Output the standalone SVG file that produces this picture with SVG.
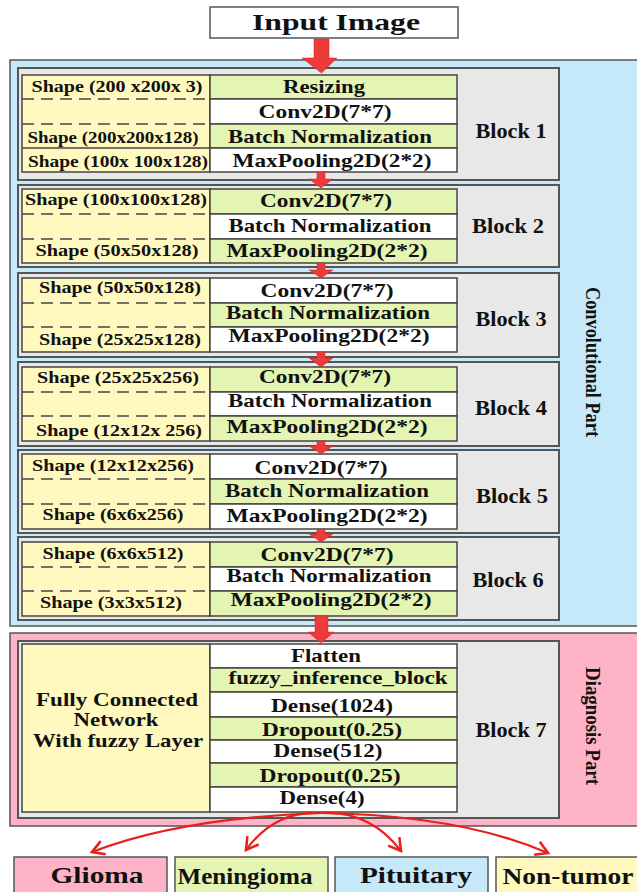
<svg xmlns="http://www.w3.org/2000/svg" width="637" height="892" viewBox="0 0 637 892">
<style>
.panelC{fill:#c6e9fa;stroke:#555;stroke-width:1.5}
.panelD{fill:#ffb3c7;stroke:#555;stroke-width:1.5}
.blk{fill:#e8e8e8;stroke:#555;stroke-width:2}
.y{fill:#fff9c0;stroke:#444;stroke-width:1.5}
.g{fill:#e3f4b3;stroke:#444;stroke-width:1.5}
.w{fill:#fff;stroke:#444;stroke-width:1.5}
.d{stroke:#444;stroke-width:1.5;stroke-dasharray:12 7;fill:none}
.sl{stroke:#444;stroke-width:1.5}
text{font-family:"Liberation Serif","Times New Roman",serif;font-weight:bold;fill:#111;text-anchor:middle}
.t{font-size:19px}
.s{font-size:16px}
.b{font-size:20px}
.v{font-size:20px}
.o{font-size:24px}
.arr{fill:#ee3a3a;stroke:#c22;stroke-width:0.5}
.cur{fill:none;stroke:#e8201c;stroke-width:2.2}
</style>
<defs>
<marker id="ah" markerUnits="userSpaceOnUse" markerWidth="18" markerHeight="18" refX="13" refY="8" orient="auto">
<path d="M1,1 L13,8 L1,15" fill="none" stroke="#e8201c" stroke-width="2.6"/>
</marker>
</defs>

<g id="input-image">
<rect x="210" y="7" width="248" height="31" fill="#fff" stroke="#555" stroke-width="1.5"/>
<text x="336" y="30" style="font-size:24px" textLength="168" lengthAdjust="spacingAndGlyphs">Input  Image</text>
</g>

<g id="convolutional-part">
<rect class="panelC" x="10" y="60" width="632" height="566"/>
<text class="v" transform="translate(586,362) rotate(90)" textLength="150" lengthAdjust="spacingAndGlyphs">Convolutional Part</text>
</g>

<g id="diagnosis-part">
<rect class="panelD" x="10" y="633" width="632" height="193"/>
<text class="v" transform="translate(586,726) rotate(90)" textLength="118" lengthAdjust="spacingAndGlyphs">Diagnosis  Part</text>
</g>

<g id="block1">
<rect class="blk" x="18" y="68" width="541" height="112"/>
<rect class="y" x="22" y="75" width="188" height="97"/>
<rect class="g" x="210" y="75" width="247" height="24"/>
<rect class="w" x="210" y="99" width="247" height="25"/>
<rect class="g" x="210" y="124" width="247" height="24"/>
<rect class="w" x="210" y="148" width="247" height="24"/>
<line class="d" x1="22" y1="99" x2="210" y2="99"/>
<line class="d" x1="22" y1="124" x2="210" y2="124"/>
<line class="sl" x1="22" y1="148" x2="210" y2="148"/>
<text class="s" x="117" y="92" textLength="171" lengthAdjust="spacingAndGlyphs">Shape (200 x200x 3)</text>
<text class="s" x="113" y="143" textLength="171" lengthAdjust="spacingAndGlyphs">Shape (200x200x128)</text>
<text class="s" x="118" y="167" textLength="180" lengthAdjust="spacingAndGlyphs">Shape (100x 100x128)</text>
<text class="t" x="324" y="93" textLength="82" lengthAdjust="spacingAndGlyphs">Resizing</text>
<text class="t" x="325" y="118" textLength="133" lengthAdjust="spacingAndGlyphs">Conv2D(7*7)</text>
<text class="t" x="330" y="143" textLength="204" lengthAdjust="spacingAndGlyphs">Batch Normalization</text>
<text class="t" x="332" y="167" textLength="199" lengthAdjust="spacingAndGlyphs">MaxPooling2D(2*2)</text>
<text class="b" x="511" y="138" textLength="71" lengthAdjust="spacingAndGlyphs">Block 1</text>
</g>

<g id="block2">
<rect class="blk" x="18" y="185" width="541" height="82"/>
<rect class="y" x="22" y="189" width="188" height="74"/>
<rect class="g" x="210" y="189" width="247" height="25"/>
<rect class="w" x="210" y="214" width="247" height="25"/>
<rect class="g" x="210" y="239" width="247" height="24"/>
<line class="d" x1="22" y1="214" x2="210" y2="214"/>
<line class="d" x1="22" y1="239" x2="210" y2="239"/>
<text class="s" x="116" y="205" textLength="182" lengthAdjust="spacingAndGlyphs">Shape (100x100x128)</text>
<text class="s" x="117" y="256" textLength="163" lengthAdjust="spacingAndGlyphs">Shape (50x50x128)</text>
<text class="t" x="326" y="207" textLength="132" lengthAdjust="spacingAndGlyphs">Conv2D(7*7)</text>
<text class="t" x="330" y="232" textLength="203" lengthAdjust="spacingAndGlyphs">Batch Normalization</text>
<text class="t" x="327" y="257" textLength="201" lengthAdjust="spacingAndGlyphs">MaxPooling2D(2*2)</text>
<text class="b" x="508" y="233" textLength="72" lengthAdjust="spacingAndGlyphs">Block 2</text>
</g>

<g id="block3">
<rect class="blk" x="18" y="273" width="541" height="84"/>
<rect class="y" x="22" y="278" width="188" height="74"/>
<rect class="w" x="210" y="278" width="247" height="25"/>
<rect class="g" x="210" y="303" width="247" height="24"/>
<rect class="w" x="210" y="327" width="247" height="25"/>
<line class="d" x1="22" y1="303" x2="210" y2="303"/>
<line class="d" x1="22" y1="327" x2="210" y2="327"/>
<text class="s" x="120" y="293" textLength="162" lengthAdjust="spacingAndGlyphs">Shape (50x50x128)</text>
<text class="s" x="120" y="345" textLength="162" lengthAdjust="spacingAndGlyphs">Shape (25x25x128)</text>
<text class="t" x="327" y="297" textLength="133" lengthAdjust="spacingAndGlyphs">Conv2D(7*7)</text>
<text class="t" x="328" y="319" textLength="204" lengthAdjust="spacingAndGlyphs">Batch Normalization</text>
<text class="t" x="329" y="342" textLength="201" lengthAdjust="spacingAndGlyphs">MaxPooling2D(2*2)</text>
<text class="b" x="511" y="326" textLength="71" lengthAdjust="spacingAndGlyphs">Block 3</text>
</g>

<g id="block4">
<rect class="blk" x="18" y="362" width="541" height="84"/>
<rect class="y" x="22" y="367" width="188" height="74"/>
<rect class="g" x="210" y="367" width="247" height="25"/>
<rect class="w" x="210" y="392" width="247" height="24"/>
<rect class="g" x="210" y="416" width="247" height="25"/>
<line class="d" x1="22" y1="392" x2="210" y2="392"/>
<line class="d" x1="22" y1="416" x2="210" y2="416"/>
<text class="s" x="118" y="383" textLength="162" lengthAdjust="spacingAndGlyphs">Shape (25x25x256)</text>
<text class="s" x="119" y="436" textLength="166" lengthAdjust="spacingAndGlyphs">Shape (12x12x 256)</text>
<text class="t" x="325" y="383" textLength="132" lengthAdjust="spacingAndGlyphs">Conv2D(7*7)</text>
<text class="t" x="330" y="407" textLength="204" lengthAdjust="spacingAndGlyphs">Batch Normalization</text>
<text class="t" x="327" y="433" textLength="201" lengthAdjust="spacingAndGlyphs">MaxPooling2D(2*2)</text>
<text class="b" x="511" y="415" textLength="72" lengthAdjust="spacingAndGlyphs">Block 4</text>
</g>

<g id="block5">
<rect class="blk" x="18" y="450" width="541" height="83"/>
<rect class="y" x="22" y="454" width="188" height="75"/>
<rect class="w" x="210" y="454" width="247" height="25"/>
<rect class="g" x="210" y="479" width="247" height="25"/>
<rect class="w" x="210" y="504" width="247" height="25"/>
<line class="d" x1="22" y1="479" x2="210" y2="479"/>
<line class="d" x1="22" y1="504" x2="210" y2="504"/>
<text class="s" x="113" y="471" textLength="162" lengthAdjust="spacingAndGlyphs">Shape (12x12x256)</text>
<text class="s" x="113" y="520" textLength="141" lengthAdjust="spacingAndGlyphs">Shape (6x6x256)</text>
<text class="t" x="321" y="474" textLength="133" lengthAdjust="spacingAndGlyphs">Conv2D(7*7)</text>
<text class="t" x="327" y="497" textLength="204" lengthAdjust="spacingAndGlyphs">Batch Normalization</text>
<text class="t" x="327" y="522" textLength="201" lengthAdjust="spacingAndGlyphs">MaxPooling2D(2*2)</text>
<text class="b" x="512" y="503" textLength="72" lengthAdjust="spacingAndGlyphs">Block 5</text>
</g>

<g id="block6">
<rect class="blk" x="18" y="537" width="541" height="83"/>
<rect class="y" x="22" y="542" width="188" height="74"/>
<rect class="g" x="210" y="542" width="247" height="25"/>
<rect class="w" x="210" y="567" width="247" height="24"/>
<rect class="g" x="210" y="591" width="247" height="25"/>
<line class="d" x1="22" y1="567" x2="210" y2="567"/>
<line class="d" x1="22" y1="591" x2="210" y2="591"/>
<text class="s" x="113" y="559" textLength="141" lengthAdjust="spacingAndGlyphs">Shape (6x6x512)</text>
<text class="s" x="111" y="608" textLength="142" lengthAdjust="spacingAndGlyphs">Shape (3x3x512)</text>
<text class="t" x="327" y="561" textLength="133" lengthAdjust="spacingAndGlyphs">Conv2D(7*7)</text>
<text class="t" x="329" y="582" textLength="205" lengthAdjust="spacingAndGlyphs">Batch Normalization</text>
<text class="t" x="331" y="606" textLength="201" lengthAdjust="spacingAndGlyphs">MaxPooling2D(2*2)</text>
<text class="b" x="508" y="587" textLength="71" lengthAdjust="spacingAndGlyphs">Block 6</text>
</g>

<g id="block7">
<rect class="blk" x="18" y="641" width="541" height="177"/>
<rect class="y" x="22" y="644" width="188" height="168"/>
<rect class="w" x="210" y="644" width="247" height="24"/>
<rect class="g" x="210" y="668" width="247" height="24"/>
<rect class="w" x="210" y="692" width="247" height="25"/>
<rect class="g" x="210" y="717" width="247" height="23"/>
<rect class="w" x="210" y="740" width="247" height="23"/>
<rect class="g" x="210" y="763" width="247" height="24"/>
<rect class="w" x="210" y="787" width="247" height="25"/>
<text class="t" x="117" y="706" textLength="162" lengthAdjust="spacingAndGlyphs">Fully Connected</text>
<text class="t" x="116" y="726" textLength="85" lengthAdjust="spacingAndGlyphs">Network</text>
<text class="t" x="118" y="747" textLength="170" lengthAdjust="spacingAndGlyphs">With fuzzy Layer</text>
<text class="t" x="326" y="662" textLength="70" lengthAdjust="spacingAndGlyphs">Flatten</text>
<text class="t" x="338" y="684" textLength="219" lengthAdjust="spacingAndGlyphs">fuzzy_inference_block</text>
<text class="t" x="332" y="712" textLength="122" lengthAdjust="spacingAndGlyphs">Dense(1024)</text>
<text class="t" x="332" y="736" textLength="140" lengthAdjust="spacingAndGlyphs">Dropout(0.25)</text>
<text class="t" x="328" y="757" textLength="109" lengthAdjust="spacingAndGlyphs">Dense(512)</text>
<text class="t" x="330" y="782" textLength="141" lengthAdjust="spacingAndGlyphs">Dropout(0.25)</text>
<text class="t" x="322" y="804" textLength="85" lengthAdjust="spacingAndGlyphs">Dense(4)</text>
<text class="b" x="511" y="737" textLength="71" lengthAdjust="spacingAndGlyphs">Block 7</text>
</g>

<g id="glioma">
<rect x="14" y="857" width="153" height="40" fill="#ffb3c7" stroke="#555" stroke-width="1.5"/>
<text class="o" x="97" y="883" textLength="93" lengthAdjust="spacingAndGlyphs">Glioma</text>
</g>
<g id="meningioma">
<rect x="175" y="857" width="153" height="40" fill="#e3f4b3" stroke="#555" stroke-width="1.5"/>
<text class="o" x="245" y="884" textLength="135" lengthAdjust="spacingAndGlyphs">Meningioma</text>
</g>
<g id="pituitary">
<rect x="335" y="857" width="153" height="40" fill="#c6e9fa" stroke="#555" stroke-width="1.5"/>
<text class="o" x="416" y="883" textLength="112" lengthAdjust="spacingAndGlyphs">Pituitary</text>
</g>
<g id="non-tumor">
<rect x="496" y="857" width="150" height="40" fill="#fff9c0" stroke="#555" stroke-width="1.5"/>
<text class="o" x="568" y="884" textLength="131" lengthAdjust="spacingAndGlyphs">Non-tumor</text>
</g>

<g id="connectors">
<polygon class="arr" points="314,39 329,39 329,58 337,58 321.5,73 302,58 314,58"/>
<polygon class="arr" points="317,172 325,172 325,179 333,179 321,188 309,179 317,179"/>
<polygon class="arr" points="317,263 325,263 325,270 333,270 321,278 309,270 317,270"/>
<polygon class="arr" points="317,352 325,352 325,358 333,358 321,367 309,358 317,358"/>
<polygon class="arr" points="317,441 325,441 325,446 333,446 321,454 309,446 317,446"/>
<polygon class="arr" points="317,529 325,529 325,534 333,534 321,542 309,534 317,534"/>
<polygon class="arr" points="315,616 328,616 328,632 334,632 321,643 308,632 315,632"/>
<path class="cur" d="M321,813 Q180,818 92,852" marker-end="url(#ah)"/>
<path class="cur" d="M321,813 Q275,810 246,850" marker-end="url(#ah)"/>
<path class="cur" d="M321,813 Q370,810 401,851" marker-end="url(#ah)"/>
<path class="cur" d="M321,813 Q460,815 548,853" marker-end="url(#ah)"/>
</g>
</svg>
